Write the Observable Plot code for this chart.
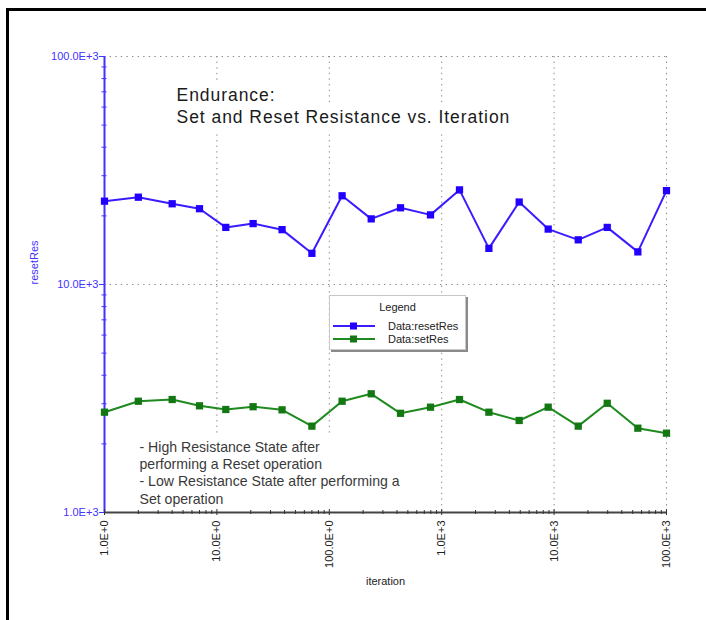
<!DOCTYPE html>
<html>
<head>
<meta charset="utf-8">
<script src="https://cdn.jsdelivr.net/npm/d3@7"></script>
<script src="https://cdn.jsdelivr.net/npm/@observablehq/plot@0.6"></script>
<style>
html, body { margin: 0; padding: 0; overflow: hidden; background: #fff; }
#wrap { position: relative; width: 706px; height: 620px; font-family: "Liberation Sans", Arial, sans-serif; }
#frame { position: absolute; left: 6px; top: 8px; width: 697px; height: 609px; border-left: 3px solid #000; border-top: 3px solid #000; }
#chart { position: absolute; left: 0; top: 0; }
#legend { position: absolute; left: 329px; top: 295px; width: 135px; height: 53px; background: #fff; border: 1px solid #c8c8c8; box-shadow: 2px 2px 0 #8a8a8a; font-size: 11px; color: #222; }
#legend .lg-title { position: absolute; left: 0; right: 0; top: 4px; text-align: center; line-height: 14px; }
#legend .lg-row { position: absolute; left: 2px; height: 12px; }
#legend .lg-row svg { position: absolute; left: 0; top: 0; }
#legend .lg-row span { position: absolute; left: 56px; top: -1px; line-height: 14px; white-space: nowrap; }
</style>
</head>
<body>
<div id="wrap">
  <div id="frame"></div>
  <div id="chart"></div>
  <div id="legend"></div>
</div>
<script>
// ---- data ----
const iterations = [1, 2, 4, 7, 12, 21, 38, 70, 130, 236, 430, 795, 1440, 2630, 4890, 8860, 16400, 29700, 55600, 100000];
const resetRes = [23200, 24150, 22600, 21500, 17800, 18500, 17400, 13700, 24500, 19400, 21700, 20200, 26000, 14400, 23000, 17500, 15700, 17800, 13900, 25800];
const setRes = [2754, 3076, 3130, 2937, 2830, 2910, 2820, 2392, 3076, 3316, 2723, 2897, 3130, 2754, 2533, 2897, 2392, 3013, 2343, 2228];

const seriesNames = ["Data:resetRes", "Data:setRes"];
const seriesLineColors = ["#3a1cff", "#1f8a1f"];
const seriesMarkColors = ["#2200ff", "#137813"];

const xTicks = [1, 10, 100, 1000, 10000, 100000];
const xTickLabels = ["1.0E+0", "10.0E+0", "100.0E+0", "1.0E+3", "10.0E+3", "100.0E+3"];
const yTicks = [1000, 10000, 100000];
const yTickLabels = ["1.0E+3", "10.0E+3", "100.0E+3"];
const xMinor = [2,3,4,5,6,7,8,9,20,30,40,50,60,70,80,90,200,300,400,500,600,700,800,900,2000,3000,4000,5000,6000,7000,8000,9000,20000,30000,40000,50000,60000,70000,80000,90000];
const yMinor = [2000,3000,4000,5000,6000,7000,8000,9000,20000,30000,40000,50000,60000,70000,80000,90000];

const titleLines = ["Endurance:", "Set and Reset Resistance vs. Iteration"];
const noteText = "- High Resistance State after\nperforming a Reset operation\n- Low Resistance State after performing a\nSet operation";
const yLabel = "resetRes";
const xLabel = "iteration";

// ---- tables ----
const resetData = iterations.map((x, i) => ({x, y: resetRes[i]}));
const setData = iterations.map((x, i) => ({x, y: setRes[i]}));
const xLab = new Map(xTicks.map((v, i) => [v, xTickLabels[i]]));
const yLab = new Map(yTicks.map((v, i) => [v, yTickLabels[i]]));

const axisBlue = "#4433ff";
const gridStyle = {stroke: "#8a8a8a", strokeOpacity: 1, strokeWidth: 1, strokeDasharray: "1.4,4.2"};
const titleStyle = {frameAnchor: "top-left", dx: 72, textAnchor: "start", lineAnchor: "top", fontSize: 17.5, fill: "#1a1a1a"};

const svg = Plot.plot({
  width: 706,
  height: 620,
  marginLeft: 104,
  marginRight: 40,
  marginTop: 56,
  marginBottom: 108,
  style: {background: "transparent", fontFamily: "'Liberation Sans', Arial, sans-serif"},
  x: {type: "log", domain: [1, 100000]},
  y: {type: "log", domain: [1000, 100000]},
  marks: [
    Plot.gridX(xTicks.slice(1), gridStyle),
    Plot.gridY(yTicks.slice(1), gridStyle),
    Plot.text([titleLines[0]], {...titleStyle, dy: 32}),
    Plot.text([titleLines[1]], {...titleStyle, dy: 54}),
    Plot.text([noteText], {frameAnchor: "top-left", dx: 35, dy: 383, textAnchor: "start", lineAnchor: "top", fontSize: 14.1, lineHeight: 1.23, fill: "#3a3a3a"}),
    // axes
    Plot.ruleY([1000], {stroke: "#444", strokeWidth: 2}),
    Plot.ruleX([1], {stroke: axisBlue, strokeWidth: 2}),
    Plot.axisX(xMinor, {tickSize: 4, dy: -2, fill: "none", stroke: "#333", label: null, tickFormat: () => ""}),
    Plot.axisX(xTicks, {tickSize: 6, dy: -3, fill: "none", stroke: "#333", label: null, tickFormat: () => ""}),
    Plot.axisX(xTicks, {tickSize: 0, tickPadding: 8, tickRotate: -90, tickFormat: d => xLab.get(d), fontSize: 11, fill: "#222", label: null}),
    Plot.axisY(yMinor, {tickSize: 5, dx: 2.5, fill: "none", stroke: axisBlue, label: null, tickFormat: () => ""}),
    Plot.axisY(yTicks, {tickSize: 5, tickPadding: 1, tickFormat: d => yLab.get(d), fontSize: 11, color: axisBlue, label: null}),
    Plot.text([yLabel], {frameAnchor: "left", dx: -70, rotate: -90, fontSize: 11, fill: axisBlue}),
    Plot.text([xLabel], {frameAnchor: "bottom", dy: 72, fontSize: 11, fill: "#222"}),
    // series
    Plot.line(resetData, {x: "x", y: "y", stroke: seriesLineColors[0], strokeWidth: 2}),
    Plot.dot(resetData, {x: "x", y: "y", symbol: "square", r: 4.1, fill: seriesMarkColors[0], stroke: "none"}),
    Plot.line(setData, {x: "x", y: "y", stroke: seriesLineColors[1], strokeWidth: 2}),
    Plot.dot(setData, {x: "x", y: "y", symbol: "square", r: 4.1, fill: seriesMarkColors[1], stroke: "none"})
  ]
});

document.getElementById("chart").append(svg);

const allTexts = Array.from(svg.querySelectorAll("text"));
const findText = pred => allTexts.find(t => pred(t.textContent));
const title1 = findText(s => s === titleLines[0]);
const title2 = findText(s => s === titleLines[1]);
const note = findText(s => s.startsWith("- High"));

// widen the title (the original is set with wide tracking)
[title1, title2].forEach(t => {
  if (!t) return;
  const n = t.textContent.length;
  const w = t.getComputedTextLength();
  t.setAttribute("textLength", w + 0.95 * (n - 1));
  t.setAttribute("lengthAdjust", "spacing");
});

// white boxes behind the in-plot texts (they interrupt the grid like in the original)
function boxBehind(t, pad) {
  if (!t) return;
  const b = t.getBBox();
  const r = document.createElementNS("http://www.w3.org/2000/svg", "rect");
  r.setAttribute("x", b.x - pad[3]);
  r.setAttribute("y", b.y - pad[0]);
  r.setAttribute("width", b.width + pad[1] + pad[3]);
  r.setAttribute("height", b.height + pad[0] + pad[2]);
  r.setAttribute("fill", "#fff");
  r.setAttribute("stroke", "none");
  const tr = t.getAttribute("transform");
  if (tr) r.setAttribute("transform", tr);
  t.parentNode.insertBefore(r, t);
}
boxBehind(title1, [3, 4, 4, 4]);
boxBehind(title2, [3, 4, 5, 4]);
boxBehind(note, [4, 4, 12, 4]);

// legend
const legend = d3.select("#legend");
legend.append("div").attr("class", "lg-title").text("Legend");
seriesNames.forEach((name, i) => {
  const row = legend.append("div").attr("class", "lg-row").style("top", (23.5 + 13 * i) + "px");
  const s = row.append("svg").attr("width", 44).attr("height", 12);
  s.append("line").attr("x1", 1).attr("x2", 43).attr("y1", 6).attr("y2", 6)
    .attr("stroke", seriesLineColors[i]).attr("stroke-width", 2);
  s.append("rect").attr("x", 18).attr("y", 2.5).attr("width", 7).attr("height", 7)
    .attr("fill", seriesMarkColors[i]);
  row.append("span").text(name);
});
</script>
</body>
</html>
